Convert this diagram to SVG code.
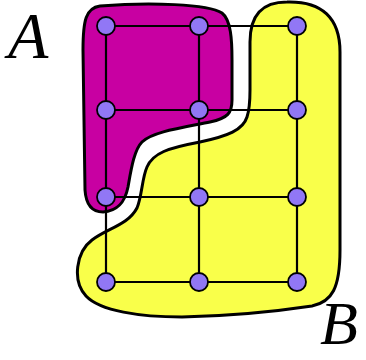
<svg xmlns="http://www.w3.org/2000/svg" width="366" height="360" viewBox="0 0 366 360">
<style>
.region{stroke:#000;stroke-width:3;stroke-linejoin:round}
.edge{stroke:#000;stroke-width:2.2;fill:none}
.node{fill:#9177f5;stroke:#000;stroke-width:1.8}
.lbl{font-family:"Liberation Serif",serif;font-style:italic;fill:#000}
</style>
<g id="regionA">
<path class="region" fill="#c800a2" d="M 100,6 C 150,2 208,4 222,13 C 231,20 232,40 232,60 L 232,100 C 232,113 228,118 210,122 C 180,128 152,132 142,142 C 134,150 131,170 128,187 C 125,202 118,211 103,212 C 92,212 86,205 85,190 L 83,50 C 83,20 86,8 100,6 Z"/>
</g>
<g id="regionB">
<path class="region" fill="#f9ff4a" d="M 287,2 C 322,1 340,18 340,52 L 340,250 C 340,288 332,302 312,306 C 272,312 230,316 182,317 C 140,317 100,311 86,296 C 72,281 76,252 92,240 C 108,228 128,225 137,208 C 142,196 142,178 147,167 C 153,153 168,148 200,142 C 228,136 243,130 247,117 C 250,108 250,100 250,90 L 250,42 C 250,15 262,2 287,2 Z"/>
</g>
<g id="connectors">
<line class="edge" x1="106" y1="26" x2="297" y2="26"/>
<line class="edge" x1="106" y1="110" x2="297" y2="110"/>
<line class="edge" x1="106" y1="197" x2="297" y2="197"/>
<line class="edge" x1="106" y1="282" x2="297" y2="282"/>
<line class="edge" x1="106" y1="26" x2="106" y2="282"/>
<line class="edge" x1="199" y1="26" x2="199" y2="282"/>
<line class="edge" x1="297" y1="26" x2="297" y2="282"/>
</g>
<g id="n11"><circle class="node" cx="106" cy="26" r="9"/></g>
<g id="n12"><circle class="node" cx="199" cy="26" r="9"/></g>
<g id="n13"><circle class="node" cx="297" cy="26" r="9"/></g>
<g id="n21"><circle class="node" cx="106" cy="110" r="9"/></g>
<g id="n22"><circle class="node" cx="199" cy="110" r="9"/></g>
<g id="n23"><circle class="node" cx="297" cy="110" r="9"/></g>
<g id="n31"><circle class="node" cx="106" cy="197" r="9"/></g>
<g id="n32"><circle class="node" cx="199" cy="197" r="9"/></g>
<g id="n33"><circle class="node" cx="297" cy="197" r="9"/></g>
<g id="n41"><circle class="node" cx="106" cy="282" r="9"/></g>
<g id="n42"><circle class="node" cx="199" cy="282" r="9"/></g>
<g id="n43"><circle class="node" cx="297" cy="282" r="9"/></g>
<g id="labelA"><text class="lbl" x="8" y="58" font-size="66">A</text></g>
<g id="labelB"><text class="lbl" x="320" y="344" font-size="62">B</text></g>
</svg>
